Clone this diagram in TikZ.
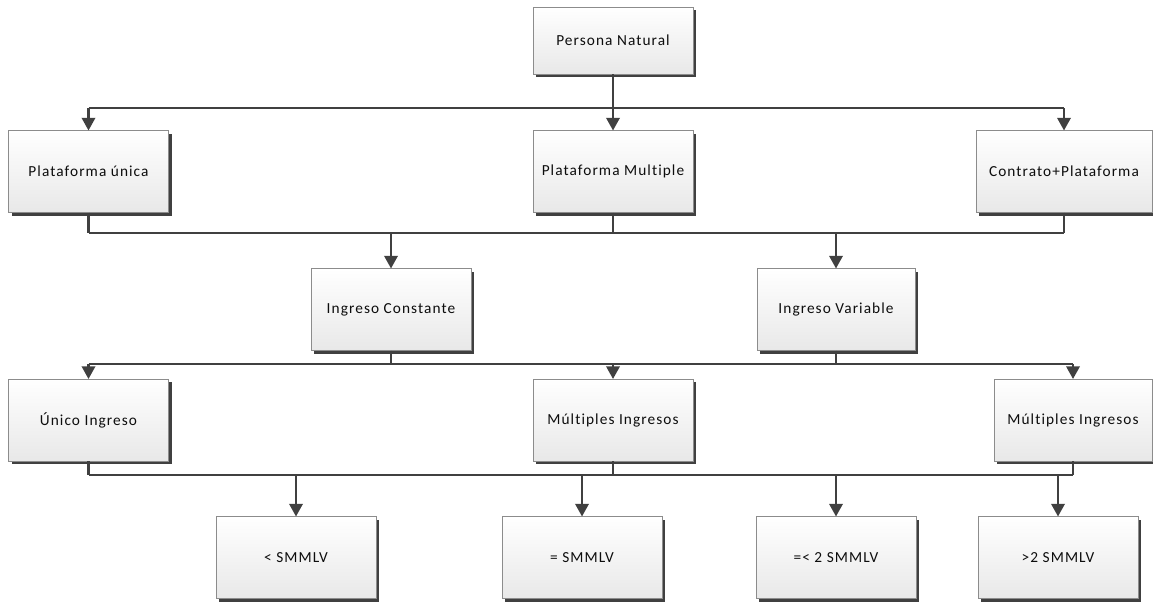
\documentclass[tikz,border=0pt]{standalone}
\usepackage{fontspec}
\setmainfont{Carlito}[LetterSpace=7,Ligatures={NoCommon,NoRare}]
\usetikzlibrary{shadows,arrows.meta}
\definecolor{linec}{HTML}{404040}
\definecolor{boxborder}{HTML}{8C8C8C}
\definecolor{txt}{HTML}{0D0D0D}
\tikzset{
  cbox/.style={draw=boxborder, line width=0.75pt, top color=white, bottom color=black!9,
    minimum width=120pt, minimum height=61.5pt, inner sep=0pt, outer sep=0pt,
    font=\fontsize{11.5}{13}\selectfont, text=txt,
    drop shadow={shadow xshift=2.4pt, shadow yshift=-2.4pt, fill=black!75, opacity=1}},
  bus/.style={draw=linec, line width=1.3pt},
  stem/.style={draw=linec, line width=1.8pt},
  arr/.style={draw=linec, line width=1.8pt, -{Triangle[width=10pt,length=9.5pt]}},
}
\begin{document}
\begin{tikzpicture}[x=0.75pt,y=-0.75pt]
\useasboundingbox (0,0) rectangle (1153,603);
% level 1
\node[cbox, minimum height=50.25pt] (PN) at (613,40.5) {Persona Natural};
% level 2
\node[cbox] (PU) at (88.5,171.5) {Plataforma única};
\node[cbox] (PM) at (613,171.5) {Plataforma Multiple};
\node[cbox, minimum width=132pt] (CP) at (1064,171.5) {Contrato+Plataforma};
% level 3
\node[cbox] (IC) at (391,309.5) {Ingreso Constante};
\node[cbox, minimum width=118.5pt] (IV) at (836,309.5) {Ingreso Variable};
% level 4
\node[cbox] (UI) at (88.5,420) {Único Ingreso};
\node[cbox] (MA) at (613,420) {Múltiples Ingresos};
\node[cbox, minimum width=118.5pt] (MB) at (1073,420) {Múltiples Ingresos};
% level 5
\node[cbox] (S1) at (296,557.5) {<\ SMMLV};
\node[cbox] (S2) at (582,557.5) {= SMMLV};
\node[cbox] (S3) at (836,557.5) {=< 2 SMMLV};
\node[cbox] (S4) at (1058,557.5) {>2 SMMLV};
% bus coordinates
\coordinate (b1) at (613,108);
\coordinate (b2) at (613,233);
\coordinate (b3) at (613,364);
\coordinate (b4) at (613,475);
% level 1 -> 2
\draw[stem] (PN.south) -- (b1);
\draw[bus] (PU.north |- b1) -- (CP.north |- b1);
\draw[arr] (PU.north |- b1) -- (PU.north);
\draw[arr] (b1) -- (PM.north);
\draw[arr] (CP.north |- b1) -- (CP.north);
% level 2 -> 3
\draw[stem] (PU.south) -- (PU.south |- b2);
\draw[stem] (PM.south) -- (b2);
\draw[stem] (CP.south) -- (CP.south |- b2);
\draw[bus] (PU.south |- b2) -- (CP.south |- b2);
\draw[arr] (IC.north |- b2) -- (IC.north);
\draw[arr] (IV.north |- b2) -- (IV.north);
% level 3 -> 4
\draw[stem] (IC.south) -- (IC.south |- b3);
\draw[stem] (IV.south) -- (IV.south |- b3);
\draw[bus] (UI.north |- b3) -- (MB.north |- b3);
\draw[arr] (UI.north |- b3) -- (UI.north);
\draw[arr] (b3) -- (MA.north);
\draw[arr] (MB.north |- b3) -- (MB.north);
% level 4 -> 5
\draw[stem] (UI.south) -- (UI.south |- b4);
\draw[stem] (MA.south) -- (b4);
\draw[stem] (MB.south) -- (MB.south |- b4);
\draw[bus] (UI.south |- b4) -- (MB.south |- b4);
\draw[arr] (S1.north |- b4) -- (S1.north);
\draw[arr] (S2.north |- b4) -- (S2.north);
\draw[arr] (S3.north |- b4) -- (S3.north);
\draw[arr] (S4.north |- b4) -- (S4.north);
\end{tikzpicture}
\end{document}
